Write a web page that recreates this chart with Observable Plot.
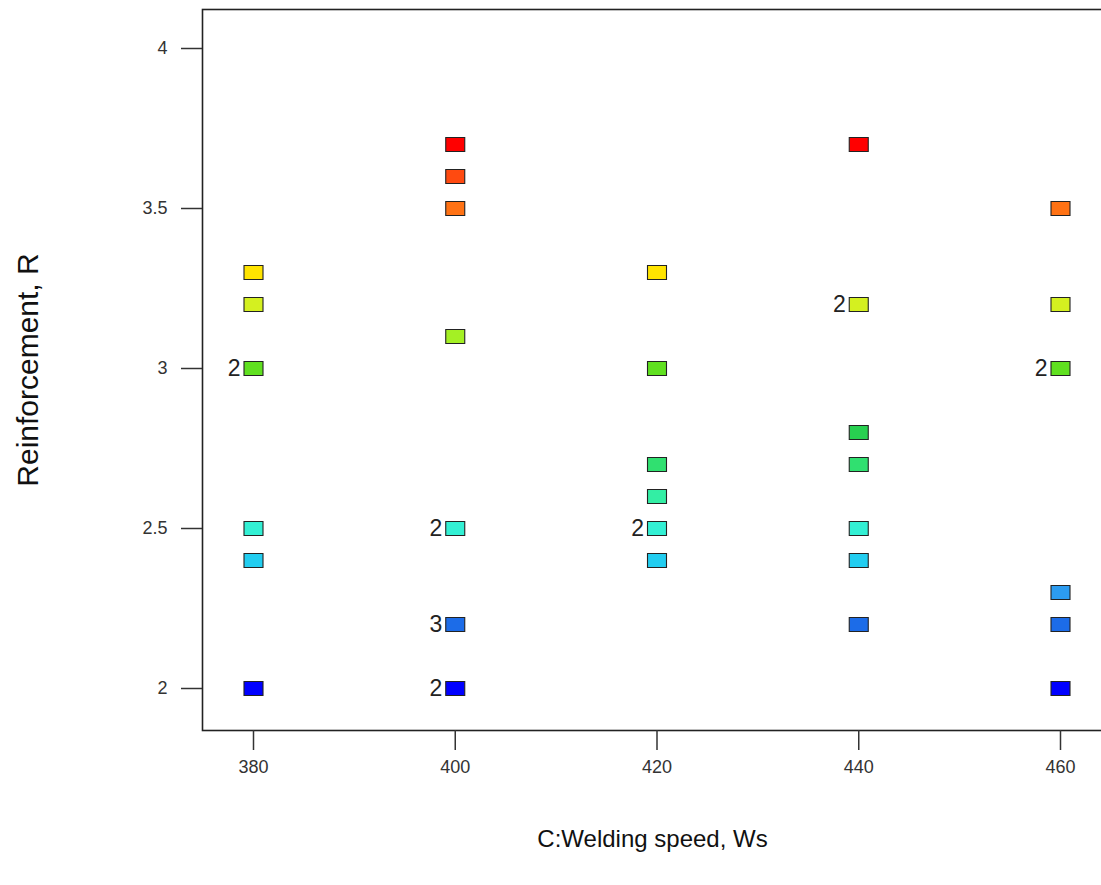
<!DOCTYPE html>
<html>
<head>
<meta charset="utf-8">
<script src="https://cdn.jsdelivr.net/npm/d3@7"></script>
<script src="https://cdn.jsdelivr.net/npm/@observablehq/plot@0.6"></script>
<style>
  html, body { margin: 0; padding: 0; background: #fff; overflow: hidden; width: 1101px; height: 885px; }
  #chart { width: 1101px; height: 885px; overflow: hidden; }
  #chart svg { display: block; max-width: none !important; font-family: "Liberation Sans", Arial, sans-serif; }
</style>
</head>
<body>
<div id="chart"></div>
<script>
// Design points: welding speed, reinforcement, number of coincident runs
const speed = [
  380, 380, 380, 380, 380, 380,
  400, 400, 400, 400, 400, 400, 400,
  420, 420, 420, 420, 420, 420,
  440, 440, 440, 440, 440, 440, 440,
  460, 460, 460, 460, 460, 460
];
const reinforcement = [
  3.3, 3.2, 3.0, 2.5, 2.4, 2.0,
  3.7, 3.6, 3.5, 3.1, 2.5, 2.2, 2.0,
  3.3, 3.0, 2.7, 2.6, 2.5, 2.4,
  3.7, 3.2, 2.8, 2.7, 2.5, 2.4, 2.2,
  3.5, 3.2, 3.0, 2.3, 2.2, 2.0
];
const runs = [
  1, 1, 2, 1, 1, 1,
  1, 1, 1, 1, 2, 3, 2,
  1, 1, 1, 1, 2, 1,
  1, 2, 1, 1, 1, 1, 1,
  1, 1, 2, 1, 1, 1
];
const xTicks = [380, 400, 420, 440, 460];
const yTicks = [2, 2.5, 3, 3.5, 4];
const xTitle = "C:Welding speed, Ws";
const yTitle = "Reinforcement, R";

const data = speed.map((s, i) => ({speed: s, r: reinforcement[i], n: runs[i]}));

const rectSymbol = {
  draw(context) { context.rect(-9.5, -7, 19, 14); }
};

const chart = Plot.plot({
  width: 1104,
  height: 885,
  marginLeft: 202,
  marginRight: 2,
  marginTop: 9,
  marginBottom: 155,
  style: {fontFamily: "Liberation Sans, Arial, sans-serif", color: "#333", background: "#fff", maxWidth: "none"},
  x: {domain: [380, 460], range: [253, 1060]},
  y: {domain: [2, 4], range: [688, 48]},
  color: {
    type: "linear",
    domain: [2.0, 2.2, 2.3, 2.4, 2.5, 2.6, 2.7, 2.8, 3.0, 3.1, 3.2, 3.3, 3.5, 3.6, 3.7],
    range: ["#0000ff", "#1c6ce8", "#2c9cf0", "#22cdf0", "#33f0d4", "#33eea4", "#30e070", "#28d050",
            "#60e020", "#a4f024", "#d4f020", "#ffe400", "#ff7214", "#ff4a10", "#ff0000"]
  },
  marks: [
    Plot.frame({stroke: "#222", strokeWidth: 1.6}),
    Plot.axisX({ticks: xTicks, tickSize: 20, tickPadding: 10, tickFormat: d => String(d), fontSize: 18, label: null, stroke: "#333", strokeWidth: 1.5}),
    Plot.axisY({ticks: yTicks, tickSize: 21, tickPadding: 14, tickFormat: d => String(d), fontSize: 18, label: null, stroke: "#333", strokeWidth: 1.5}),
    Plot.dot(data, {x: "speed", y: "r", fill: "r", stroke: "#222", strokeWidth: 1.1, symbol: rectSymbol, r: 8}),
    Plot.text(data.filter(d => d.n > 1), {x: "speed", y: "r", text: d => String(d.n), textAnchor: "end", dx: -13, fontSize: 23, fill: "#222"}),
    Plot.text([xTitle], {frameAnchor: "bottom", dy: 116, fontSize: 24, fill: "#111"}),
    Plot.text([yTitle], {frameAnchor: "left", textAnchor: "middle", dx: -174, rotate: -90, fontSize: 30, fill: "#111"})
  ]
});
document.getElementById("chart").appendChild(chart);
</script>
</body>
</html>
